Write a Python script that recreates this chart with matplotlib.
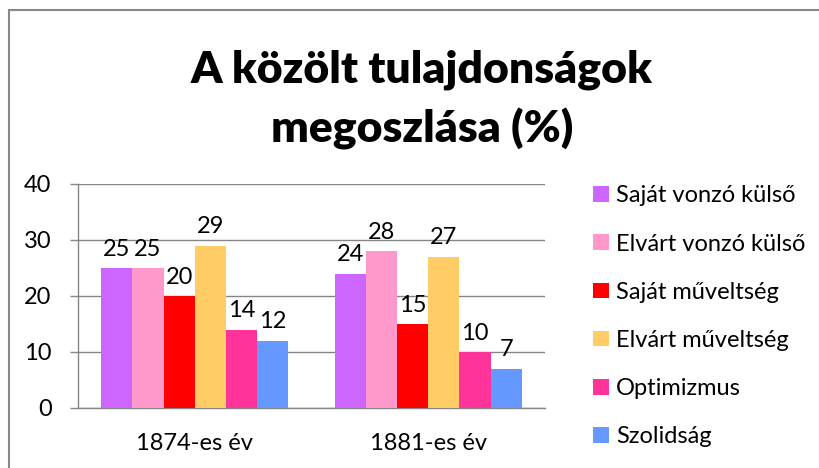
import numpy as np
import matplotlib.pyplot as plt
from matplotlib.patches import Rectangle

plt.rcParams['font.family'] = ['Lato', 'DejaVu Sans']

# data
years = ['1874-es év', '1881-es év']
series_names = ['Saját vonzó külső', 'Elvárt vonzó külső', 'Saját műveltség',
                'Elvárt műveltség', 'Optimizmus', 'Szolidság']
sajat_kulso = [25, 24]
elvart_kulso = [25, 28]
sajat_muv = [20, 15]
elvart_muv = [29, 27]
optimizmus = [14, 10]
szolidsag = [12, 7]
colors = ['#CC66FF', '#FF99CC', '#FF0000', '#FFCC66', '#FF3399', '#6699FF']

values = [sajat_kulso, elvart_kulso, sajat_muv, elvart_muv, optimizmus, szolidsag]

fig = plt.figure(figsize=(8.19, 4.68), dpi=100)

# chart frame (cut off at right and bottom like the original)
fig.patches.append(Rectangle((9 / 819, -0.1), 1.0, 1 - 10 / 468 + 0.1,
                             transform=fig.transFigure, fill=False,
                             edgecolor='#888888', linewidth=1.5))

ax = fig.add_axes([78 / 819, 1 - 408 / 468, 467 / 819, 224 / 468])

x = np.arange(len(years))
width = 0.8 / len(values)
for i, (vals, col, name) in enumerate(zip(values, colors, series_names)):
    pos = x - 0.4 + width * (i + 0.5)
    ax.bar(pos, vals, width, color=col, label=name, zorder=3)
    for p, v in zip(pos, vals):
        ax.annotate(str(v), xy=(p, v), xytext=(0, 6), textcoords='offset points',
                    ha='center', va='bottom', fontsize=17)

ax.set_xlim(-0.5, 1.5)
ax.set_ylim(0, 40)
ax.set_yticks([0, 10, 20, 30, 40])
ax.set_xticks(x)
ax.set_xticklabels(years)
ax.tick_params(axis='x', length=0, pad=18, labelsize=17)
ax.tick_params(axis='y', length=6, width=1, color='#868686', labelsize=17, pad=13)
ax.grid(axis='y', color='#868686', linewidth=1, zorder=0)
for s in ['top', 'right']:
    ax.spines[s].set_visible(False)
for s in ['left', 'bottom']:
    ax.spines[s].set_color('#868686')
    ax.spines[s].set_linewidth(1)

ax.legend(loc='upper left', bbox_to_anchor=(584 / 819, 1 - 176 / 468),
          bbox_transform=fig.transFigure, frameon=False, fontsize=17,
          handlelength=0.65, handleheight=0.65, handletextpad=0.3,
          labelspacing=1.15, borderaxespad=0)

fig.text(0.515, 1 - 83 / 468, 'A közölt tulajdonságok', ha='center', va='baseline',
         fontsize=32, fontweight='heavy')
fig.text(0.515, 1 - 142 / 468, 'megoszlása (%)', ha='center', va='baseline',
         fontsize=32, fontweight='heavy')

plt.savefig('out.png', dpi=100)
